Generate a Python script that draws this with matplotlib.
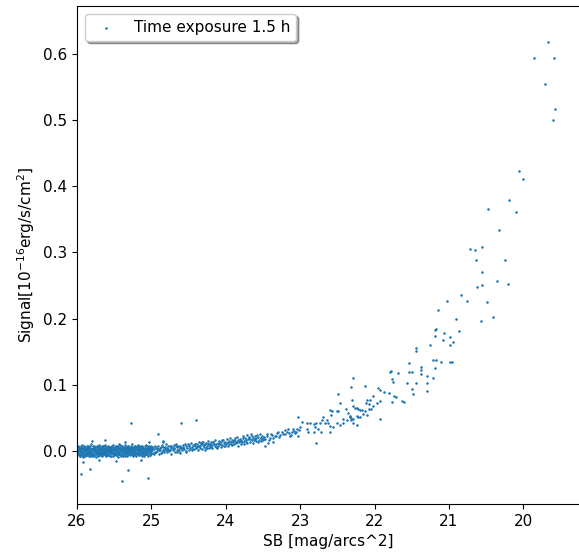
import matplotlib
matplotlib.use("Agg")
import matplotlib.pyplot as plt
import numpy as np

plt.rcParams['font.size'] = 11

# ---- faint end: dense band 26 -> 25 mag/arcsec^2 ----
sb_faint = [
    25.99,25.99,25.98,25.98,25.97,25.97,25.96,25.96,25.95,25.95,
    25.94,25.94,25.93,25.93,25.92,25.92,25.91,25.91,25.90,25.90,
    25.89,25.89,25.88,25.88,25.87,25.87,25.86,25.86,25.85,25.85,
    25.84,25.84,25.83,25.83,25.82,25.82,25.81,25.81,25.80,25.80,
    25.79,25.79,25.78,25.78,25.77,25.77,25.76,25.76,25.75,25.75,
    25.74,25.74,25.73,25.73,25.72,25.72,25.71,25.71,25.70,25.70,
    25.69,25.69,25.68,25.68,25.67,25.67,25.66,25.66,25.65,25.65,
    25.64,25.64,25.63,25.63,25.62,25.62,25.61,25.61,25.60,25.60,
    25.59,25.59,25.58,25.58,25.57,25.57,25.56,25.56,25.55,25.55,
    25.54,25.54,25.53,25.53,25.52,25.52,25.51,25.51,25.50,25.50,
    25.49,25.49,25.48,25.48,25.47,25.47,25.46,25.46,25.45,25.45,
    25.44,25.44,25.43,25.43,25.42,25.42,25.41,25.41,25.40,25.40,
    25.39,25.39,25.38,25.38,25.37,25.37,25.36,25.36,25.35,25.35,
    25.34,25.34,25.33,25.33,25.32,25.32,25.31,25.31,25.30,25.30,
    25.29,25.29,25.28,25.28,25.27,25.27,25.26,25.26,25.25,25.25,
    25.24,25.24,25.23,25.23,25.22,25.22,25.21,25.21,25.20,25.20,
    25.19,25.19,25.18,25.18,25.17,25.17,25.16,25.16,25.15,25.15,
    25.14,25.14,25.13,25.13,25.12,25.12,25.11,25.11,25.10,25.10,
    25.09,25.09,25.08,25.08,25.07,25.07,25.06,25.06,25.05,25.05,
    25.04,25.04,25.03,25.03,25.02,25.02,25.01,25.01,25.00,25.00,
    25.995,25.985,25.975,25.965,25.955,25.945,25.935,25.925,25.915,25.905,
    25.895,25.885,25.875,25.865,25.855,25.845,25.835,25.825,25.815,25.805,
    25.795,25.785,25.775,25.765,25.755,25.745,25.735,25.725,25.715,25.705,
    25.695,25.685,25.675,25.665,25.655,25.645,25.635,25.625,25.615,25.605,
    25.595,25.585,25.575,25.565,25.555,25.545,25.535,25.525,25.515,25.505,
    25.495,25.485,25.475,25.465,25.455,25.445,25.435,25.425,25.415,25.405,
    25.395,25.385,25.375,25.365,25.355,25.345,25.335,25.325,25.315,25.305,
    25.295,25.285,25.275,25.265,25.255,25.245,25.235,25.225,25.215,25.205,
    25.195,25.185,25.175,25.165,25.155,25.145,25.135,25.125,25.115,25.105,
    25.095,25.085,25.075,25.065,25.055,25.045,25.035,25.025,25.015,25.005,
    25.992,25.982,25.972,25.962,25.952,25.942,25.932,25.922,25.912,25.902,
    25.892,25.882,25.872,25.862,25.852,25.842,25.832,25.822,25.812,25.802,
    25.792,25.782,25.772,25.762,25.752,25.742,25.732,25.722,25.712,25.702,
    25.692,25.682,25.672,25.662,25.652,25.642,25.632,25.622,25.612,25.602,
    25.592,25.582,25.572,25.562,25.552,25.542,25.532,25.522,25.512,25.502,
    25.492,25.482,25.472,25.462,25.452,25.442,25.432,25.422,25.412,25.402,
    25.392,25.382,25.372,25.362,25.352,25.342,25.332,25.322,25.312,25.302,
    25.292,25.282,25.272,25.262,25.252,25.242,25.232,25.222,25.212,25.202,
    25.192,25.182,25.172,25.162,25.152,25.142,25.132,25.122,25.112,25.102,
    25.092,25.082,25.072,25.062,25.052,25.042,25.032,25.022,25.012,25.002,
]
sig_faint = [
    0.004,-0.005,0.001,0.008,-0.003,0.006,-0.008,0.002,0.005,-0.001,
    -0.006,0.003,0.009,-0.002,0.000,-0.009,0.006,0.002,-0.004,0.007,
    0.001,-0.007,0.005,-0.001,0.008,-0.004,0.003,-0.006,0.000,0.006,
    -0.003,0.004,-0.008,0.007,0.002,-0.005,0.010,-0.001,0.003,-0.007,
    0.005,-0.002,0.001,-0.006,0.008,0.003,-0.004,0.006,-0.009,0.000,
    0.002,-0.005,0.007,-0.001,0.004,-0.008,0.001,0.009,-0.003,0.005,
    -0.006,0.003,0.000,0.006,-0.002,0.008,-0.007,0.002,0.004,-0.004,
    0.007,-0.001,-0.005,0.003,0.009,-0.003,0.005,-0.008,0.001,0.006,
    -0.002,0.004,0.008,-0.006,0.002,-0.004,0.006,0.000,-0.007,0.003,
    0.005,-0.003,0.001,0.007,-0.008,0.003,-0.001,0.009,0.004,-0.005,
    0.000,0.006,-0.004,0.002,0.008,-0.006,0.004,-0.002,0.007,-0.009,
    0.003,-0.001,0.010,-0.005,0.001,0.005,-0.007,0.006,-0.003,0.002,
    -0.004,0.007,0.002,-0.008,0.005,-0.001,0.009,0.003,-0.006,0.000,
    0.006,-0.003,-0.007,0.004,0.001,0.008,-0.005,0.002,0.005,-0.002,
    0.003,-0.006,0.007,0.000,-0.004,0.005,0.010,-0.002,0.002,-0.008,
    -0.001,0.006,0.004,-0.005,0.008,0.001,-0.007,0.003,0.006,-0.003,
    0.002,-0.004,0.009,-0.002,0.005,-0.006,0.001,0.007,-0.001,0.004,
    -0.005,0.003,0.006,-0.008,0.000,0.008,0.004,-0.003,0.002,-0.006,
    0.007,-0.001,0.003,-0.005,0.009,0.001,-0.004,0.005,0.002,-0.007,
    0.004,-0.002,0.008,0.000,-0.006,0.006,0.003,-0.003,0.007,0.001,
    -0.002,0.005,-0.006,0.003,0.000,0.007,-0.004,0.004,-0.008,0.001,
    0.006,-0.003,0.002,-0.005,0.008,0.000,-0.002,0.005,-0.006,0.003,
    -0.004,0.007,0.001,-0.007,0.004,-0.001,0.006,-0.003,0.002,0.008,
    0.003,-0.006,0.005,0.001,-0.003,0.007,-0.005,0.000,0.006,-0.002,
    -0.005,0.002,0.006,-0.001,0.004,-0.007,0.008,0.001,-0.004,0.005,
    0.002,-0.004,0.007,-0.006,0.000,0.004,-0.002,0.009,0.003,-0.005,
    0.005,0.000,-0.003,0.006,-0.007,0.002,0.004,-0.001,0.007,-0.004,
    -0.002,0.004,0.001,-0.005,0.006,0.003,-0.006,0.008,0.000,-0.003,
    0.006,-0.003,0.002,0.005,-0.005,0.000,0.007,-0.002,0.004,-0.007,
    0.001,0.005,-0.004,0.008,0.002,-0.003,0.006,-0.006,0.003,0.000,
    0.000,-0.003,0.004,-0.007,0.002,-0.004,0.005,-0.001,0.003,-0.005,
    -0.004,0.001,-0.006,0.004,-0.002,0.003,-0.007,0.002,0.001,-0.003,
    0.003,-0.005,0.004,0.002,-0.002,0.001,-0.005,0.000,0.005,-0.004,
    -0.001,0.004,-0.003,-0.005,0.001,0.002,0.003,-0.006,0.000,0.004,
    0.003,-0.006,-0.002,0.005,-0.001,0.000,-0.003,0.004,0.002,-0.006,
    -0.003,0.001,0.002,0.004,-0.004,-0.001,0.005,-0.006,0.000,0.003,
    0.001,-0.005,0.005,-0.002,0.003,-0.005,0.000,0.004,-0.002,0.002,
    0.004,-0.001,-0.004,0.002,-0.003,0.005,0.001,-0.004,0.003,0.006,
    -0.003,0.001,0.004,-0.006,0.002,0.003,-0.002,0.004,-0.005,0.002,
    0.003,-0.002,0.001,-0.004,0.005,0.000,0.002,-0.001,0.005,-0.004,
]

# ---- faint-end outliers ----
sb_out = [25.92, 25.94, 25.82, 25.32, 25.40, 25.05, 25.28, 25.80, 25.62,
          25.36, 25.03, 24.85, 25.70, 25.14, 25.48, 24.91, 24.60, 24.40, 24.84]
sig_out = [-0.016, -0.034, -0.027, -0.029, -0.045, -0.041, 0.042, 0.015, 0.017,
           0.014, 0.014, 0.015, -0.013, -0.013, -0.015, 0.026, 0.042, 0.047, 0.014]

# ---- 25 -> 24 ----
sb_mid1 = [
    24.99,24.98,24.97,24.96,24.95,24.94,24.93,24.92,24.91,24.90,
    24.89,24.88,24.87,24.86,24.85,24.84,24.83,24.82,24.81,24.80,
    24.79,24.78,24.77,24.76,24.75,24.74,24.73,24.72,24.71,24.70,
    24.69,24.68,24.67,24.66,24.65,24.64,24.63,24.62,24.61,24.60,
    24.59,24.58,24.57,24.56,24.55,24.54,24.53,24.52,24.51,24.50,
    24.49,24.48,24.47,24.46,24.45,24.44,24.43,24.42,24.41,24.40,
    24.39,24.38,24.37,24.36,24.35,24.34,24.33,24.32,24.31,24.30,
    24.29,24.28,24.27,24.26,24.25,24.24,24.23,24.22,24.21,24.20,
    24.19,24.18,24.17,24.16,24.15,24.14,24.13,24.12,24.11,24.10,
    24.09,24.08,24.07,24.06,24.05,24.04,24.03,24.02,24.01,24.00,
    24.375,24.335,24.295,24.255,24.215,24.175,24.135,24.095,24.055,24.015,
    24.985,24.945,24.905,24.865,24.825,24.785,24.745,24.705,24.665,24.625,
    24.975,24.935,24.895,24.855,24.815,24.775,24.735,24.695,24.655,24.615,
    24.575,24.535,24.495,24.455,24.415,24.355,24.315,24.275,24.235,24.195,
]
sig_mid1 = [
    0.001,0.006,-0.004,0.003,0.008,-0.002,0.004,0.000,0.007,-0.005,
    0.005,0.002,-0.003,0.009,0.001,0.006,-0.001,0.004,0.010,0.002,
    -0.002,0.007,0.003,0.000,0.008,0.005,-0.004,0.006,0.002,0.009,
    0.004,-0.001,0.010,0.006,0.002,0.008,0.003,-0.003,0.007,0.005,
    0.001,0.009,0.006,0.003,0.011,-0.002,0.007,0.004,0.010,0.002,
    0.008,0.005,0.012,0.001,0.006,0.009,0.003,0.011,0.007,0.004,
    0.010,0.006,0.002,0.013,0.008,0.005,0.011,0.003,0.009,0.014,
    0.006,0.010,0.004,0.012,0.008,0.015,0.005,0.010,0.007,0.013,
    0.009,0.004,0.014,0.011,0.007,0.016,0.010,0.005,0.012,0.008,
    0.015,0.011,0.006,0.013,0.009,0.017,0.012,0.007,0.014,0.010,
    0.007,0.012,0.009,0.004,0.011,0.013,0.006,0.010,0.016,0.008,
    0.004,-0.001,0.003,0.006,0.002,0.005,0.001,0.004,0.007,0.000,
    -0.003,0.005,0.002,-0.002,0.006,0.001,0.008,0.003,-0.001,0.006,
    0.004,0.000,0.009,0.003,0.010,0.007,0.014,0.002,0.011,0.006,
]

# ---- 24 -> 23 ----
sb_mid2 = [
    23.99,23.98,23.97,23.96,23.95,23.94,23.93,23.92,23.91,23.90,
    23.89,23.88,23.87,23.86,23.85,23.84,23.83,23.82,23.81,23.80,
    23.79,23.78,23.77,23.76,23.75,23.74,23.73,23.72,23.71,23.70,
    23.69,23.68,23.67,23.66,23.65,23.64,23.63,23.62,23.61,23.60,
    23.59,23.58,23.57,23.56,23.55,23.54,23.53,23.52,23.51,23.50,
    23.965,23.925,23.885,23.845,23.805,23.765,23.725,23.685,23.645,23.605,
    23.48,23.44,23.42,23.39,23.36,23.33,23.30,23.28,23.23,23.21,
    23.15,23.12,23.08,23.05,23.02,
]
sig_mid2 = [
    0.012,0.018,0.008,0.015,0.011,0.020,0.013,0.009,0.017,0.014,
    0.010,0.019,0.015,0.012,0.021,0.008,0.016,0.013,0.018,0.011,
    0.017,0.013,0.022,0.015,0.010,0.019,0.016,0.024,0.012,0.018,
    0.021,0.014,0.018,0.025,0.016,0.012,0.020,0.017,0.023,0.015,
    0.019,0.024,0.013,0.021,0.017,0.026,0.020,0.015,0.022,0.018,
    0.014,0.010,0.016,0.013,0.015,0.020,0.014,0.019,0.022,0.018,
    0.021,0.025,0.017,0.026,0.020,0.022,0.029,0.021,0.025,0.031,
    0.027,0.024,0.030,0.029,0.032,
]

# ---- 23.5 -> 22 ----
sb_mid3 = [
    22.487,22.30,22.47,22.285,22.24,22.105,22.08,22.195,22.16,22.38,
    22.60,22.51,22.59,22.69,22.33,22.32,22.37,22.42,22.285,22.24,
    22.51,22.46,22.105,22.195,22.64,22.62,22.67,22.71,22.73,22.78,
    22.60,22.555,23.025,22.98,22.91,22.87,22.82,22.80,22.755,22.72,
    22.60,22.82,22.91,22.89,22.78,23.00,23.045,23.09,23.11,23.07,
    23.18,23.20,23.25,23.27,23.315,23.34,23.38,23.405,23.45,23.47,
    23.495,23.52,23.14,23.025,23.43,23.47,23.36,23.16,
    22.285,22.13,22.31,22.025,22.06,22.12,22.025,22.26,22.22,22.17,
    22.07,22.05,22.495,22.575,22.13,22.35,22.33,22.31,22.285,22.24,
    22.22,22.42,
]
sig_mid3 = [
    0.086,0.077,0.072,0.068,0.0645,0.077,0.071,0.062,0.056,0.063,
    0.062,0.061,0.054,0.052,0.051,0.047,0.047,0.042,0.042,0.039,
    0.043,0.039,0.054,0.052,0.047,0.042,0.042,0.047,0.043,0.042,
    0.038,0.036,0.052,0.044,0.043,0.042,0.041,0.036,0.033,0.029,
    0.028,0.029,0.033,0.029,0.0125,0.036,0.034,0.033,0.029,0.027,
    0.029,0.026,0.028,0.024,0.027,0.023,0.024,0.019,0.022,0.018,
    0.017,0.019,0.022,0.022,0.012,0.008,0.014,0.034,
    0.111,0.098,0.096,0.083,0.077,0.072,0.068,0.065,0.063,0.062,
    0.063,0.063,0.060,0.060,0.060,0.057,0.053,0.050,0.049,0.053,
    0.051,0.049,
]

# ---- 22 -> 21 ----
sb_bright1 = [
    21.95,21.93,21.87,21.80,21.74,21.71,21.77,21.63,21.60,21.93,
    21.97,21.93,21.79,21.685,21.765,21.75,21.56,21.44,21.29,21.50,
    21.48,21.295,21.19,21.29,21.375,21.375,21.375,21.495,21.21,21.54,
    21.78,21.54,
]
sig_bright1 = [
    0.095,0.092,0.089,0.088,0.083,0.081,0.074,0.076,0.074,0.076,
    0.072,0.049,0.120,0.118,0.109,0.104,0.102,0.102,0.102,0.093,
    0.086,0.091,0.125,0.113,0.127,0.122,0.117,0.120,0.111,0.1325,
    0.121,0.119,
]

# ---- brightest end 21.5 -> 19.5 ----
sb_bright2 = [
    20.47,20.10,20.33,20.715,20.65,20.55,20.63,20.24,20.55,20.35,
    20.20,20.62,20.55,20.84,21.02,20.76,20.49,21.15,20.90,20.405,
    20.57,21.17,21.19,21.065,20.86,21.19,20.98,21.08,20.94,20.98,
    21.25,21.44,21.44,21.21,21.17,21.105,20.98,20.96,
    20.185,20.06,19.997,19.665,19.853,19.584,19.71,19.567,19.603,
]
sig_bright2 = [
    0.365,0.361,0.333,0.305,0.303,0.308,0.289,0.289,0.271,0.257,
    0.252,0.248,0.250,0.236,0.227,0.227,0.2245,0.213,0.199,0.202,
    0.197,0.185,0.183,0.178,0.181,0.174,0.172,0.167,0.165,0.160,
    0.160,0.155,0.151,0.137,0.137,0.134,0.134,0.134,
    0.379,0.423,0.411,0.617,0.594,0.594,0.554,0.517,0.4995,
]

sb = np.array(sb_faint + sb_out + sb_mid1 + sb_mid2 + sb_mid3 + sb_bright1 + sb_bright2)
sig = np.array(sig_faint + sig_out + sig_mid1 + sig_mid2 + sig_mid3 + sig_bright1 + sig_bright2)

fig = plt.figure(figsize=(5.79, 5.54), dpi=100)
ax = fig.add_axes([77/579, 50/554, 503/579, 498/554])
ax.scatter(sb, sig, s=1.2, linewidths=0.7, color='#1f77b4', label='Time exposure 1.5 h')
ax.set_xlim(26, 19.237)
ax.set_ylim(-0.080, 0.672)
ax.set_xticks([26, 25, 24, 23, 22, 21, 20])
ax.set_xticklabels(['26', '25', '24', '23', '22', '21', '20'])
ax.set_yticks([0.0, 0.1, 0.2, 0.3, 0.4, 0.5, 0.6])
ax.set_xlabel('SB [mag/arcs^2]')
ax.set_ylabel(r'Signal[$10^{-16}$erg/s/cm$^2$]')
ax.legend(loc='upper left', shadow=True)
fig.savefig('out.png', dpi=100)
